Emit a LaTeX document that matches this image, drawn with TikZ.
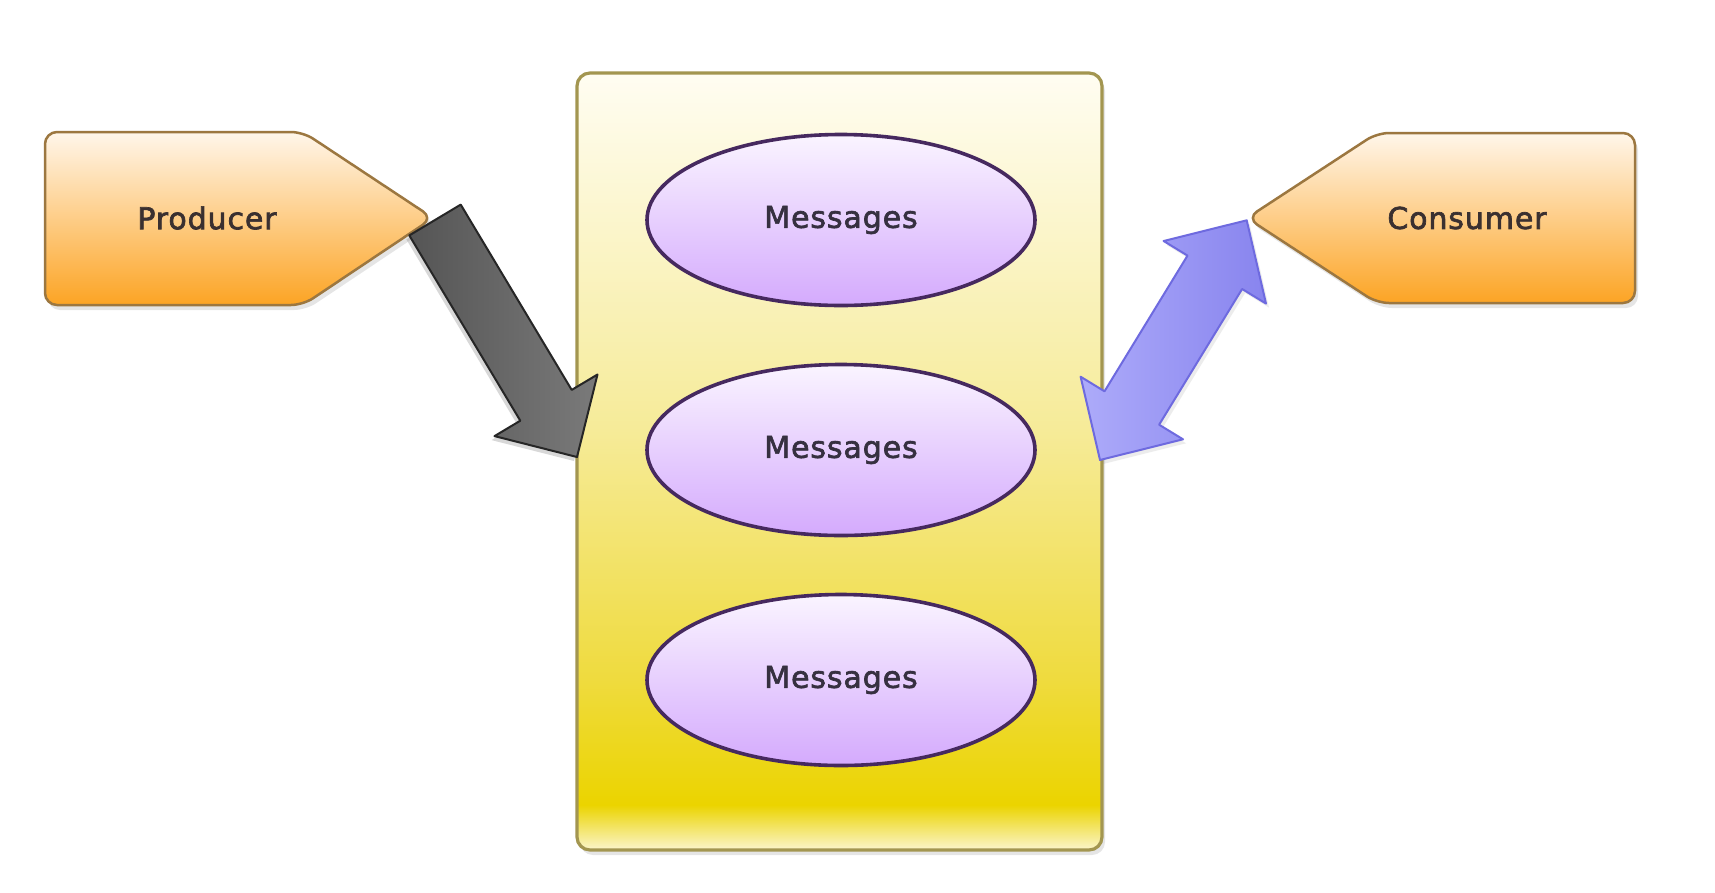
\documentclass[tikz,border=0pt]{standalone}
\usepackage{fontspec}
\setmainfont{DejaVu Sans}[FakeBold=2.2, LetterSpace=3]
\usetikzlibrary{shapes.geometric,shadows}
\definecolor{orTop}{HTML}{FFF6EA}
\definecolor{orBot}{HTML}{FCA424}
\definecolor{orLine}{HTML}{9C7740}
\definecolor{qLine}{HTML}{A39650}
\definecolor{qTop}{HTML}{FFFDF2}
\definecolor{qMid}{HTML}{F6EB98}
\definecolor{qLow}{HTML}{EFDB3E}
\definecolor{qYel}{HTML}{EBD400}
\definecolor{qBase}{HTML}{FBF5CC}
\definecolor{elTop}{HTML}{FAF4FF}
\definecolor{elBot}{HTML}{D4AAFD}
\definecolor{elLine}{HTML}{46295F}
\definecolor{txt}{HTML}{3A3030}
\definecolor{txtm}{HTML}{363040}
\definecolor{gDark}{HTML}{555555}
\definecolor{gLight}{HTML}{A8A8A8}
\definecolor{gMid}{HTML}{7A7A7A}
\definecolor{gLine}{HTML}{262626}
\definecolor{bLight}{HTML}{ADABFA}
\definecolor{bDark}{HTML}{8884EE}
\definecolor{bLine}{HTML}{6E6ADF}
\pgfdeclareverticalshading{queueshade}{100bp}{color(0bp)=(qBase); color(25bp)=(qBase); color(27.9bp)=(qYel); color(36bp)=(qLow); color(52bp)=(qMid); color(75bp)=(qTop); color(100bp)=(qTop)}
\begin{document}
\begin{tikzpicture}[x=1pt,y=-1pt,
  lbl/.style={font=\fontsize{30}{36}\selectfont, text=txt},
  softshadow/.style={drop shadow={opacity=0.2, shadow xshift=3pt, shadow yshift=-5pt}},
  orangebox/.style={draw=orLine, line width=2.5pt, rounded corners=12pt, line join=round,
     top color=orTop, bottom color=orBot, softshadow},
  queuebox/.style={rectangle, draw=qLine, line width=3.2pt, rounded corners=13pt,
     shade, shading=queueshade, minimum width=525pt, minimum height=777pt, inner sep=0pt, softshadow},
  msg/.style={ellipse, draw=elLine, line width=3.6pt, top color=elTop, bottom color=elBot,
     minimum width=388pt, minimum height=171pt, inner sep=0pt, lbl, text=txtm},
  grayarrow/.style={draw=gLine, line width=2pt, line join=round,
     left color=gDark, middle color=gLight, right color=gMid,
     drop shadow={opacity=0.3, shadow xshift=-3pt, shadow yshift=-4pt}},
  bluearrow/.style={draw=bLine, line width=2pt, line join=round, left color=bLight, right color=bDark,
     drop shadow={opacity=0.15, shadow xshift=3pt, shadow yshift=-4pt}}
]
\useasboundingbox (0,0) rectangle (1715,892);
\fill[white] (0,0) rectangle (1715,892);

% central queue
\node[queuebox] (queue) at (839.5,461.5) {};
\node[msg] (msg1) at (841,220) {Messages};
\node[msg] (msg2) at (841,450) {Messages};
\node[msg] (msg3) at (841,680) {Messages};

% producer
\path[orangebox] (45,132) -- (303,132) -- (433,218) -- (303,305) -- (45,305) -- cycle;
\node[lbl] (producer) at (207,218) {Producer};

% gray arrow producer -> queue
\coordinate (gtail) at (435,220);
\coordinate (gtip) at (577,457);
\path[grayarrow] (460.7,204.6) -- (571.7,389.9) -- (597.5,374.5) -- (gtip)
   -- (494.5,436.1) -- (520.3,420.7) -- (409.3,235.4) -- cycle;

% blue double arrow queue <-> consumer
\coordinate (blow) at (1100,460);
\coordinate (bup) at (1246.7,220.3);
\path[bluearrow] (blow) -- (1183,439.3) -- (1159.1,424.7) -- (1242.1,289) -- (1266,303.6)
   -- (bup) -- (1163.6,241) -- (1187.5,255.6) -- (1104.5,391.3) -- (1080.6,376.7) -- cycle;

% consumer
\path[orangebox] (1247,218) -- (1377,133) -- (1635,133) -- (1635,303) -- (1377,303) -- cycle;
\node[lbl] (consumer) at (1467,218) {Consumer};
\end{tikzpicture}
\end{document}
